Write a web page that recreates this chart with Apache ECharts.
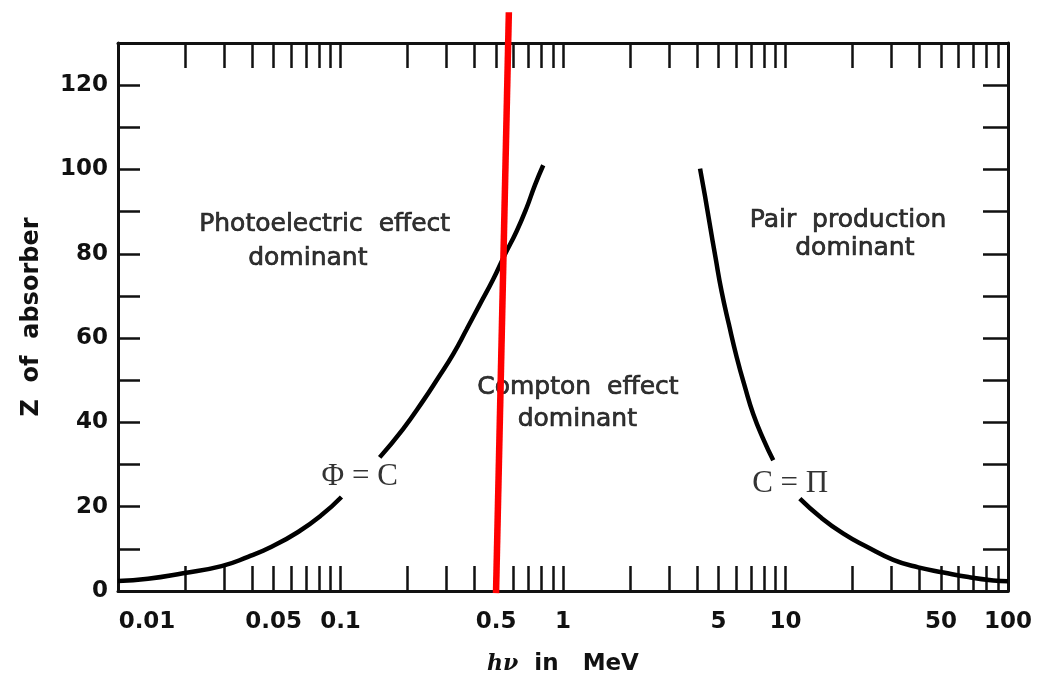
<!DOCTYPE html>
<html><head><meta charset="utf-8">
<script src="https://cdn.jsdelivr.net/npm/echarts@6/dist/echarts.min.js"></script>
<style>html,body{margin:0;padding:0;background:#fff}#c{width:1053px;height:682px}</style>
</head><body><div id="c"></div>
<script>
// Photon energy (MeV) tick marks on the log axis
const tickE = [0.01,0.02,0.03,0.04,0.05,0.06,0.07,0.08,0.09,
               0.1,0.2,0.3,0.4,0.5,0.6,0.7,0.8,0.9,
               1,2,3,4,5,6,7,8,9,
               10,20,30,40,50,60,70,80,90,100];
const labelE = [0.01,0.05,0.1,0.5,1,5,10,50,100];
const labelText = ['0.01','0.05','0.1','0.5','1','5','10','50','100'];

// Φ = C boundary (photoelectric = Compton); null marks the gap around its label
const phiE = [0.01,0.01364,0.0196,0.0292,0.0384,0.049,0.0645,0.0822,0.101,null,
              0.150,0.191,0.235,0.275,0.321,0.369,0.423,0.485,0.548,0.618,0.685,0.748,0.815];
const phiZ = [2.4,2.9,4.2,5.9,8.1,10.5,14.0,18.0,22.3,null,
              31.7,38.4,45.1,50.6,56.2,62.1,68.0,73.9,79.8,85.3,90.8,96.3,101.0];

// C = Π boundary (Compton = pair production)
const piE = [4.13,4.35,4.57,4.85,5.16,5.57,6.04,6.58,7.16,7.94,8.81,null,
             11.6,14.3,18.2,23.2,30.5,39.5,51.3,66.4,85.9,100];
const piZ = [100.2,93.6,86.9,79.0,71.1,63.2,55.4,48.3,42.0,36.1,31.0,null,
             21.9,17.6,13.6,10.5,7.4,5.6,4.4,3.3,2.5,2.3];

// red annotation line
const redE = [0.5,0.571];
const redZ = [-0.5,137.3];

// region texts
const noteText = ['Photoelectric  effect','dominant','Compton  effect','dominant','Pair  production','dominant'];
const noteE = [0.0849,0.0713,1.167,1.16,19.1,20.5];
const noteZ = [86.9,78.9,48.2,40.8,88.0,81.3];

// curve labels
const eqText = ['Φ = C','C = Π'];
const eqE = [0.122,10.5];
const eqZ = [27.0,25.4];

const lg = v => Math.log10(v);
const toPts = (E,Z) => E.map((e,i) => e == null ? ['-','-'] : [lg(e), Z[i]]);

const ink = '#111';
const tickVals = tickE.map(lg);
const labelVals = labelE.map(lg);
const labelFont = {fontFamily:'DejaVu Sans', fontWeight:'bold', fontSize:23, color:ink};

function xFmt(v){
  for (let i=0;i<labelVals.length;i++){
    if (Math.abs(labelVals[i]-v) < 1e-6) return i===0 ? '{first|'+labelText[i]+'}' : labelText[i];
  }
  return '';
}

const axisLineStyle = {show:true, onZero:false, lineStyle:{color:ink, width:3}};

const chart = echarts.init(document.getElementById('c'), null, {renderer:'canvas'});
chart.setOption({
  backgroundColor:'#fff',
  animation:false,
  grid:{left:118, right:45, top:43, bottom:91, containLabel:false},
  xAxis:[{
    type:'value', min:-2, max:2, position:'bottom',
    axisLine:axisLineStyle,
    axisTick:{show:true, inside:true, length:25, customValues:tickVals, lineStyle:{color:ink, width:2.5}},
    axisLabel:Object.assign({show:true, margin:20, customValues:labelVals, formatter:xFmt,
      rich:{first:Object.assign({padding:[0,0,0,58]}, labelFont)}}, labelFont),
    splitLine:{show:false},
    name:'{i|hν}  {n|in   MeV}', nameLocation:'middle', nameGap:62,
    nameTextStyle:{fontSize:23, fontFamily:'DejaVu Sans', fontWeight:'bold', rich:{
      i:{fontFamily:'DejaVu Serif', fontStyle:'italic', fontWeight:'bold', fontSize:22, color:ink},
      n:{fontFamily:'DejaVu Sans', fontWeight:'bold', fontSize:23, color:ink}
    }}
  },{
    type:'value', min:-2, max:2, position:'top',
    axisLine:axisLineStyle,
    axisTick:{show:true, inside:true, length:25, customValues:tickVals, lineStyle:{color:ink, width:2.5}},
    axisLabel:{show:false}, splitLine:{show:false}
  }],
  yAxis:[{
    type:'value', min:0, max:130, interval:10, position:'left',
    axisLine:axisLineStyle,
    axisTick:{show:true, inside:true, length:22, lineStyle:{color:ink, width:2.5}},
    axisLabel:Object.assign({margin:10, formatter:v => (v%20===0 && v<=120) ? String(v) : ''}, labelFont),
    splitLine:{show:false},
    name:'Z  of  absorber', nameLocation:'middle', nameGap:74,
    nameTextStyle:{fontFamily:'DejaVu Sans', fontWeight:'bold', fontSize:24, color:ink}
  },{
    type:'value', min:0, max:130, interval:10, position:'right',
    axisLine:axisLineStyle,
    axisTick:{show:true, inside:true, length:25, lineStyle:{color:ink, width:2.5}},
    axisLabel:{show:false}, splitLine:{show:false}
  }],
  series:[
    {type:'line', name:'Φ = C', data:toPts(phiE,phiZ), showSymbol:false, symbol:'none',
     smooth:0.5, connectNulls:false,
     lineStyle:{color:'#000', width:4.5}, silent:true},
    {type:'line', name:'C = Π', data:toPts(piE,piZ), showSymbol:false, symbol:'none',
     smooth:0.5, connectNulls:false,
     lineStyle:{color:'#000', width:4.5}, silent:true},
    {type:'scatter', data:noteE.map((e,i)=>({value:[lg(e),noteZ[i]], name:noteText[i]})),
     symbolSize:1, itemStyle:{color:'rgba(0,0,0,0)'}, silent:true,
     label:{show:true, position:'inside', formatter:p=>p.name,
       fontFamily:'DejaVu Sans', fontSize:25, color:'#000', textBorderColor:'#000', textBorderWidth:0.7}},
    {type:'scatter', data:eqE.map((e,i)=>({value:[lg(e),eqZ[i]], name:eqText[i]})),
     symbolSize:1, itemStyle:{color:'rgba(0,0,0,0)'}, silent:true,
     label:{show:true, position:'inside', formatter:p=>p.name,
       fontFamily:'Liberation Serif', fontSize:31, color:'#000'}},
    {type:'line', data:toPts(redE,redZ), symbol:'none', clip:false, z:10,
     lineStyle:{color:'#ff0000', width:6.5}, silent:true}
  ]
});
</script></body></html>
